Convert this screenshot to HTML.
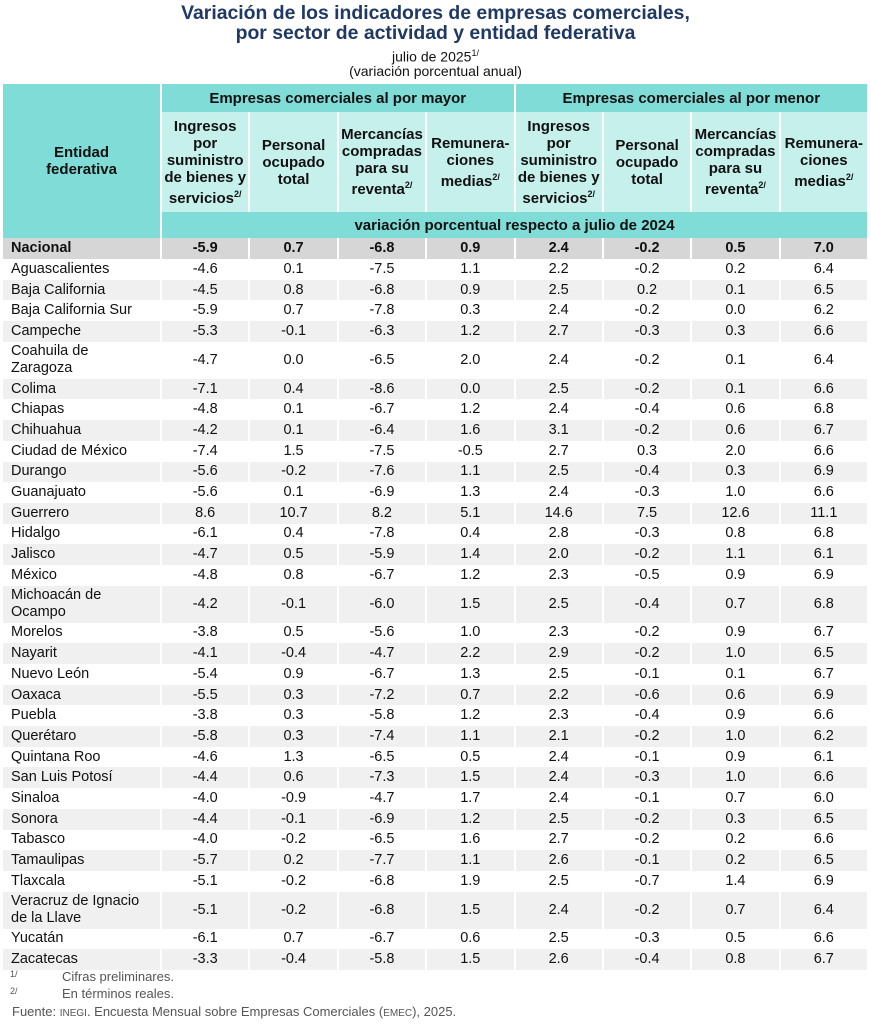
<!DOCTYPE html>
<html><head><meta charset="utf-8"><style>
body{margin:0;width:871px;height:1024px;background:#fff;font-family:"Liberation Sans",Arial,sans-serif;color:#111;position:relative;overflow:hidden}
.t{position:absolute;left:0;width:871px;text-align:center;color:#1f3864;font-weight:bold;font-size:19.4px;line-height:21px}
.s{position:absolute;left:0;width:871px;text-align:center;font-size:14px;line-height:16px}
table{position:absolute;left:1px;top:84px;width:868px;border-collapse:separate;border-spacing:2px 0;table-layout:fixed}
td,th{padding:0;font-size:14.5px}
th{font-family:"Liberation Sans Narrow","Liberation Sans",sans-serif;font-weight:bold;font-size:15px;line-height:17px;background:#7fdcd6}
.h2 th{background:#c6f0ec}
.h1 th{height:28px}
.h2 th{height:100px}
.h3 th{height:26px}
td{text-align:center;height:20.7px;line-height:17px}
td:first-child{text-align:left;padding-left:8px}
tr.g td{background:#f0f0f0}
tr.d td{height:37px}
tr.n td{background:#d6d6d6;font-weight:bold;height:21px}
sup{font-size:9px}
.f{position:absolute;left:10px;font-size:13px;color:#555}
</style></head><body>
<div class="t" style="top:3px">Variación de los indicadores de empresas comerciales,</div>
<div class="t" style="top:23px">por sector de actividad y entidad federativa</div>
<div class="s" style="top:45px">julio de 2025<sup>1/</sup></div>
<div class="s" style="top:63px">(variación porcentual anual)</div>
<table>
<colgroup><col style="width:157px"><col><col><col><col><col><col><col><col></colgroup>
<tr class="h1"><th rowspan="3">Entidad<br>federativa</th><th colspan="4">Empresas comerciales al por mayor</th><th colspan="4">Empresas comerciales al por menor</th></tr>
<tr class="h2"><th>Ingresos<br>por<br>suministro<br>de bienes y<br>servicios<sup>2/</sup></th><th>Personal<br>ocupado<br>total</th><th>Mercancías<br>compradas<br>para su<br>reventa<sup>2/</sup></th><th>Remunera-<br>ciones<br>medias<sup>2/</sup></th><th>Ingresos<br>por<br>suministro<br>de bienes y<br>servicios<sup>2/</sup></th><th>Personal<br>ocupado<br>total</th><th>Mercancías<br>compradas<br>para su<br>reventa<sup>2/</sup></th><th>Remunera-<br>ciones<br>medias<sup>2/</sup></th></tr>
<tr class="h3"><th colspan="8">variación porcentual respecto a julio de 2024</th></tr>
<tr class="n"><td>Nacional</td><td>-5.9</td><td>0.7</td><td>-6.8</td><td>0.9</td><td>2.4</td><td>-0.2</td><td>0.5</td><td>7.0</td></tr>
<tr><td>Aguascalientes</td><td>-4.6</td><td>0.1</td><td>-7.5</td><td>1.1</td><td>2.2</td><td>-0.2</td><td>0.2</td><td>6.4</td></tr>
<tr class="g"><td>Baja California</td><td>-4.5</td><td>0.8</td><td>-6.8</td><td>0.9</td><td>2.5</td><td>0.2</td><td>0.1</td><td>6.5</td></tr>
<tr><td>Baja California Sur</td><td>-5.9</td><td>0.7</td><td>-7.8</td><td>0.3</td><td>2.4</td><td>-0.2</td><td>0.0</td><td>6.2</td></tr>
<tr class="g"><td>Campeche</td><td>-5.3</td><td>-0.1</td><td>-6.3</td><td>1.2</td><td>2.7</td><td>-0.3</td><td>0.3</td><td>6.6</td></tr>
<tr class="d"><td>Coahuila de<br>Zaragoza</td><td>-4.7</td><td>0.0</td><td>-6.5</td><td>2.0</td><td>2.4</td><td>-0.2</td><td>0.1</td><td>6.4</td></tr>
<tr class="g"><td>Colima</td><td>-7.1</td><td>0.4</td><td>-8.6</td><td>0.0</td><td>2.5</td><td>-0.2</td><td>0.1</td><td>6.6</td></tr>
<tr><td>Chiapas</td><td>-4.8</td><td>0.1</td><td>-6.7</td><td>1.2</td><td>2.4</td><td>-0.4</td><td>0.6</td><td>6.8</td></tr>
<tr class="g"><td>Chihuahua</td><td>-4.2</td><td>0.1</td><td>-6.4</td><td>1.6</td><td>3.1</td><td>-0.2</td><td>0.6</td><td>6.7</td></tr>
<tr><td>Ciudad de México</td><td>-7.4</td><td>1.5</td><td>-7.5</td><td>-0.5</td><td>2.7</td><td>0.3</td><td>2.0</td><td>6.6</td></tr>
<tr class="g"><td>Durango</td><td>-5.6</td><td>-0.2</td><td>-7.6</td><td>1.1</td><td>2.5</td><td>-0.4</td><td>0.3</td><td>6.9</td></tr>
<tr><td>Guanajuato</td><td>-5.6</td><td>0.1</td><td>-6.9</td><td>1.3</td><td>2.4</td><td>-0.3</td><td>1.0</td><td>6.6</td></tr>
<tr class="g"><td>Guerrero</td><td>8.6</td><td>10.7</td><td>8.2</td><td>5.1</td><td>14.6</td><td>7.5</td><td>12.6</td><td>11.1</td></tr>
<tr><td>Hidalgo</td><td>-6.1</td><td>0.4</td><td>-7.8</td><td>0.4</td><td>2.8</td><td>-0.3</td><td>0.8</td><td>6.8</td></tr>
<tr class="g"><td>Jalisco</td><td>-4.7</td><td>0.5</td><td>-5.9</td><td>1.4</td><td>2.0</td><td>-0.2</td><td>1.1</td><td>6.1</td></tr>
<tr><td>México</td><td>-4.8</td><td>0.8</td><td>-6.7</td><td>1.2</td><td>2.3</td><td>-0.5</td><td>0.9</td><td>6.9</td></tr>
<tr class="g d"><td>Michoacán de<br>Ocampo</td><td>-4.2</td><td>-0.1</td><td>-6.0</td><td>1.5</td><td>2.5</td><td>-0.4</td><td>0.7</td><td>6.8</td></tr>
<tr><td>Morelos</td><td>-3.8</td><td>0.5</td><td>-5.6</td><td>1.0</td><td>2.3</td><td>-0.2</td><td>0.9</td><td>6.7</td></tr>
<tr class="g"><td>Nayarit</td><td>-4.1</td><td>-0.4</td><td>-4.7</td><td>2.2</td><td>2.9</td><td>-0.2</td><td>1.0</td><td>6.5</td></tr>
<tr><td>Nuevo León</td><td>-5.4</td><td>0.9</td><td>-6.7</td><td>1.3</td><td>2.5</td><td>-0.1</td><td>0.1</td><td>6.7</td></tr>
<tr class="g"><td>Oaxaca</td><td>-5.5</td><td>0.3</td><td>-7.2</td><td>0.7</td><td>2.2</td><td>-0.6</td><td>0.6</td><td>6.9</td></tr>
<tr><td>Puebla</td><td>-3.8</td><td>0.3</td><td>-5.8</td><td>1.2</td><td>2.3</td><td>-0.4</td><td>0.9</td><td>6.6</td></tr>
<tr class="g"><td>Querétaro</td><td>-5.8</td><td>0.3</td><td>-7.4</td><td>1.1</td><td>2.1</td><td>-0.2</td><td>1.0</td><td>6.2</td></tr>
<tr><td>Quintana Roo</td><td>-4.6</td><td>1.3</td><td>-6.5</td><td>0.5</td><td>2.4</td><td>-0.1</td><td>0.9</td><td>6.1</td></tr>
<tr class="g"><td>San Luis Potosí</td><td>-4.4</td><td>0.6</td><td>-7.3</td><td>1.5</td><td>2.4</td><td>-0.3</td><td>1.0</td><td>6.6</td></tr>
<tr><td>Sinaloa</td><td>-4.0</td><td>-0.9</td><td>-4.7</td><td>1.7</td><td>2.4</td><td>-0.1</td><td>0.7</td><td>6.0</td></tr>
<tr class="g"><td>Sonora</td><td>-4.4</td><td>-0.1</td><td>-6.9</td><td>1.2</td><td>2.5</td><td>-0.2</td><td>0.3</td><td>6.5</td></tr>
<tr><td>Tabasco</td><td>-4.0</td><td>-0.2</td><td>-6.5</td><td>1.6</td><td>2.7</td><td>-0.2</td><td>0.2</td><td>6.6</td></tr>
<tr class="g"><td>Tamaulipas</td><td>-5.7</td><td>0.2</td><td>-7.7</td><td>1.1</td><td>2.6</td><td>-0.1</td><td>0.2</td><td>6.5</td></tr>
<tr><td>Tlaxcala</td><td>-5.1</td><td>-0.2</td><td>-6.8</td><td>1.9</td><td>2.5</td><td>-0.7</td><td>1.4</td><td>6.9</td></tr>
<tr class="g d"><td>Veracruz de Ignacio<br>de la Llave</td><td>-5.1</td><td>-0.2</td><td>-6.8</td><td>1.5</td><td>2.4</td><td>-0.2</td><td>0.7</td><td>6.4</td></tr>
<tr><td>Yucatán</td><td>-6.1</td><td>0.7</td><td>-6.7</td><td>0.6</td><td>2.5</td><td>-0.3</td><td>0.5</td><td>6.6</td></tr>
<tr class="g"><td>Zacatecas</td><td>-3.3</td><td>-0.4</td><td>-5.8</td><td>1.5</td><td>2.6</td><td>-0.4</td><td>0.8</td><td>6.7</td></tr>
</table>
<div class="f" style="top:969px"><sup>1/</sup><span style="position:absolute;left:52px;white-space:nowrap">Cifras preliminares.</span></div>
<div class="f" style="top:986px"><sup>2/</sup><span style="position:absolute;left:52px;white-space:nowrap">En términos reales.</span></div>
<div class="f" style="top:1004px;left:12px">Fuente: <span style="font-size:10px">INEGI</span>. Encuesta Mensual sobre Empresas Comerciales (<span style="font-size:10px">EMEC</span>), 2025.</div>
</body></html>
